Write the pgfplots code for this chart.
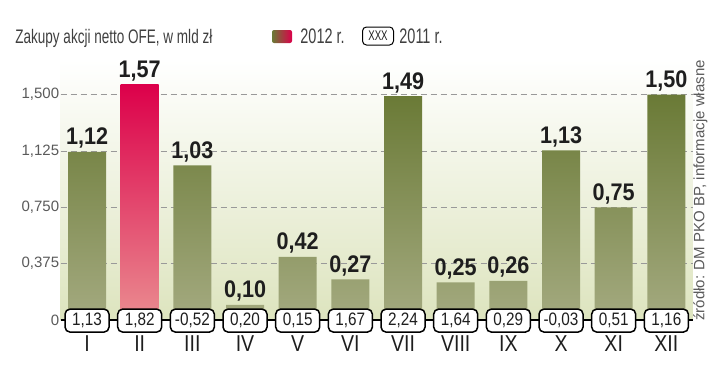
\documentclass[border=0pt]{standalone}
\usepackage{fontspec}
\usepackage{pgfplots}
\pgfplotsset{compat=1.18}
\setmainfont{Liberation Sans}
\newfontfamily\titlefont[FakeStretch=0.69]{Liberation Sans}
\newfontfamily\boxfont[FakeStretch=0.85]{Liberation Sans}
\newfontfamily\valfont[FakeStretch=0.9]{Liberation Sans Bold}
\definecolor{olivetop}{HTML}{6A7A36}
\definecolor{olivebot}{HTML}{A4AA80}
\definecolor{redtop}{HTML}{DC004A}
\definecolor{redbot}{HTML}{EA8C90}
\definecolor{bgbot}{HTML}{DDE4BE}
\definecolor{txt}{HTML}{1E1E1E}
\definecolor{gtxt}{HTML}{5A5A5A}
\tikzset{valstyle/.style={anchor=base, inner sep=0pt, yshift=3.5pt, text=txt, font=\valfont\fontsize{12}{12}\selectfont, /pgf/number format/.cd, fixed, fixed zerofill, precision=2, use comma, assume math mode=true}}
\begin{document}
\begin{tikzpicture}[x=0.5pt,y=0.5pt]
\useasboundingbox (0,0) rectangle (718,371);
% title and legend
\node[anchor=base west, inner sep=0pt, text=gtxt!70!black, font=\titlefont\fontsize{9.8}{10}\selectfont] at (15,328) {Zakupy akcji netto OFE, w mld zł};
\shade[left color=olivetop, right color=redtop, rounded corners=1pt] (272,328) rectangle (292,341);
\node[anchor=base west, inner sep=0pt, text=gtxt!70!black, font=\titlefont\fontsize{10.5}{11}\selectfont] at (300,328) {2012 r.};
\node[draw=black, line width=0.5pt, rounded corners=2pt, minimum width=15.5pt, minimum height=9pt, inner sep=0pt, font=\titlefont\fontsize{7}{7}\selectfont, text=txt] at (378,335) {XXX};
\node[anchor=base west, inner sep=0pt, text=gtxt!70!black, font=\titlefont\fontsize{10.5}{11}\selectfont] at (399,328) {2011 r.};
% source
\node[rotate=90, anchor=south west, inner sep=0pt, text=gtxt, font=\fontsize{7.5}{8}\selectfont] at (708,50) {źródło: DM PKO BP, informacje własne};
\begin{axis}[
  at={(30.35pt,25.5pt)}, anchor=south west,
  scale only axis, width=316pt, height=130pt,
  xmin=-0.5, xmax=11.5, ymin=0, ymax=1.731,
  axis line style={draw=none},
  axis background/.style={shade, top color=white, bottom color=bgbot},
  ytick={0,0.375,0.75,1.125,1.5},
  yticklabels={0,{0,375},{0,750},{1,125},{1,500}},
  ymajorgrids, grid style={densely dashed, gray!80, line width=0.5pt},
  major tick length=0pt,
  yticklabel style={text=gtxt, font=\fontsize{7.5}{8}\selectfont, inner sep=0.6pt},
  xtick={0,...,11},
  xticklabels={I,II,III,IV,V,VI,VII,VIII,IX,X,XI,XII},
  xticklabel style={anchor=base, yshift=-15.5pt, text=txt, font=\boxfont\fontsize{11.5}{12}\selectfont},
  clip=false,
]
\addplot[ybar, bar width=0.721, bar shift=0pt, draw=none, top color=olivetop, bottom color=olivebot,
  nodes near coords, nodes near coords style={valstyle}]
  coordinates {(0,1.12) (2,1.03) (3,0.10) (4,0.42) (5,0.27) (6,1.49) (7,0.25) (8,0.26) (9,1.13) (10,0.75) (11,1.50)};
\addplot[ybar, bar width=0.721, bar shift=0pt, draw=none, top color=redtop, bottom color=redbot,
  nodes near coords, nodes near coords style={valstyle}]
  coordinates {(1,1.57)};
\draw[black, line width=1.1pt] (axis cs:-0.5,0) -- (axis cs:11.5,0);
\addplot[only marks, mark=none, point meta=explicit symbolic,
  nodes near coords, nodes near coords style={anchor=center, draw=black, fill=white, line width=0.75pt, rounded corners=2.5pt, minimum width=22pt, minimum height=11.5pt, inner sep=0pt, yshift=-0.3pt, text=txt, font=\boxfont\fontsize{9}{10}\selectfont}]
  table[meta=lab] {
x y lab
0 0 1,13
1 0 1,82
2 0 -0,52
3 0 0,20
4 0 0,15
5 0 1,67
6 0 2,24
7 0 1,64
8 0 0,29
9 0 -0,03
10 0 0,51
11 0 1,16
};
\end{axis}
\end{tikzpicture}
\end{document}
